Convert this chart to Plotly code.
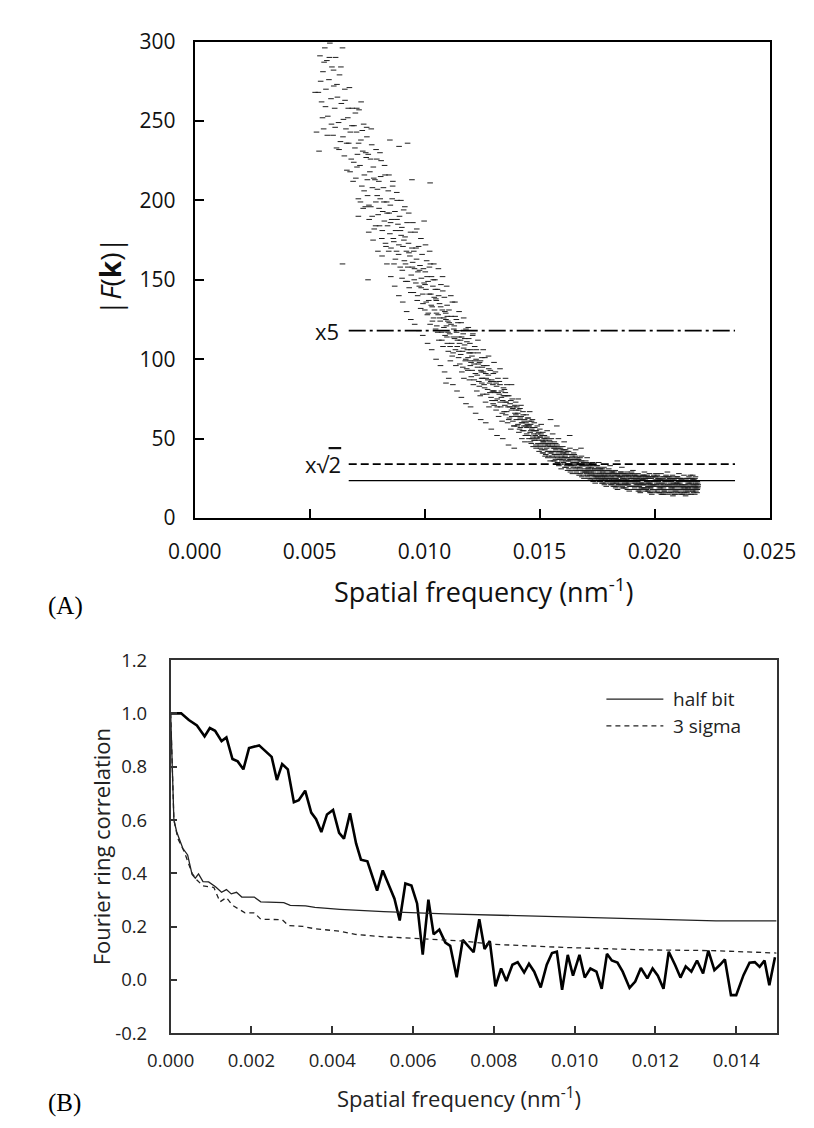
import plotly.graph_objects as go

# ---------------- Panel A data ----------------
# |F(k)| samples: (spatial frequency in 1e-5 nm^-1, amplitude)
pts_low = [
    (524, 268), (530, 243), (538, 268), (541, 231), (545, 291), (552, 262), (558, 281), (561, 245),
    (566, 296), (571, 270), (575, 288), (579, 253), (584, 276), (588, 299), (593, 264), (597, 284),
    (602, 241), (605, 272), (609, 258), (613, 290), (617, 233), (621, 265), (626, 249), (630, 279),
    (634, 237), (638, 261), (643, 296), (647, 251), (643, 160),
    (651, 228), (654, 263), (658, 245), (662, 219), (666, 252), (670, 236), (673, 271), (677, 243),
    (681, 226), (685, 258), (689, 212), (693, 247), (697, 233),
    (701, 214), (704, 243), (708, 229), (712, 201), (715, 257), (719, 222), (723, 238), (727, 209),
    (731, 231), (735, 248), (738, 216), (742, 196), (746, 227), (749, 240), (754, 150),
    (752, 203), (755, 229), (759, 188), (762, 218), (766, 196), (770, 235), (773, 208), (777, 221),
    (781, 182), (784, 213), (788, 199), (792, 226), (795, 207), (798, 191),
    (801, 212), (804, 184), (807, 201), (811, 225), (814, 176), (818, 193), (821, 208), (825, 187),
    (828, 216), (832, 171), (835, 199), (839, 184), (842, 206), (846, 192), (849, 179), (849, 238),
    (851, 197), (854, 170), (857, 188), (861, 209), (864, 176), (867, 160), (871, 193), (874, 181),
    (878, 168), (881, 200), (884, 185), (888, 172), (891, 190), (894, 158), (898, 178), (889, 234),
    (901, 183), (903, 156), (906, 171), (909, 194), (912, 162), (915, 177), (918, 149), (921, 168),
    (924, 186), (927, 158), (930, 173), (933, 145), (936, 165), (939, 180), (942, 153), (945, 170),
    (948, 161), (945, 213), (926, 236),
    (951, 142), (953, 168), (956, 157), (959, 180), (962, 148), (965, 163), (968, 137), (971, 155),
    (974, 171), (977, 146), (980, 159), (983, 132), (986, 151), (989, 166), (992, 141), (995, 157),
    (998, 148), (998, 187),
    (548, 275), (556, 252), (563, 287), (569, 259), (577, 241), (586, 290), (595, 248), (604, 282),
    (611, 246), (619, 273), (628, 232), (636, 284), (645, 240), (653, 270), (661, 236), (668, 258),
    (676, 218), (684, 247), (692, 224), (699, 255), (706, 221), (713, 236), (721, 199), (729, 244),
    (737, 206), (744, 230), (751, 213), (758, 197), (765, 226), (772, 190), (779, 214), (787, 184),
    (794, 203), (802, 195), (809, 215), (816, 181), (823, 199), (830, 173), (837, 192), (844, 168),
    (852, 186), (859, 201), (866, 174), (873, 163), (880, 188), (887, 166), (895, 181), (902, 151),
    (910, 175), (917, 160), (925, 149), (932, 167), (940, 142), (947, 158), (955, 150), (963, 170),
    (970, 140), (978, 156), (985, 145), (993, 135),
]
pts_wide = [
    (705, 258), (712, 190), (724, 262), (733, 195), (748, 246), (757, 180), (768, 245), (776, 175),
    (789, 232), (797, 168), (806, 230), (815, 165), (826, 222), (836, 160), (845, 216), (853, 152),
    (862, 212), (870, 146), (879, 205), (888, 140), (897, 200), (905, 136), (914, 196), (922, 130),
    (931, 192), (940, 125), (949, 186), (957, 122), (966, 182), (975, 118), (984, 176), (992, 115),
    (1004, 172), (1013, 110), (1022, 168), (1031, 106), (1040, 160), (1050, 100), (1060, 157),
    (1069, 96), (1078, 152), (1087, 92), (1096, 146), (1105, 88), (1114, 140), (1123, 84),
    (1132, 136), (1141, 80), (1150, 130), (1160, 76), (1170, 126), (1180, 72), (1190, 120),
    (1200, 70), (1210, 116), (1222, 66), (1232, 112), (1244, 62), (1255, 106), (1266, 60),
    (1278, 102), (1290, 56), (1302, 98), (1315, 52), (1328, 94), (1340, 50), (1352, 88),
    (1365, 46), (1378, 84), (1390, 44),
]
pts_mid = [
    (1001, 131), (1003, 155), (1006, 144), (1009, 162), (1012, 128), (1015, 149), (1018, 137), (1021, 158),
    (1024, 122), (1027, 141), (1030, 152), (1033, 133), (1036, 146), (1039, 126), (1042, 139), (1045, 150),
    (1048, 119), (1024, 211),
    (1051, 137), (1053, 121), (1056, 144), (1059, 128), (1062, 112), (1065, 135), (1068, 124), (1071, 147),
    (1074, 117), (1077, 131), (1080, 108), (1083, 126), (1086, 139), (1089, 115), (1092, 129), (1095, 121),
    (1098, 134), (1099, 110), (1093, 85),
    (1101, 124), (1103, 105), (1106, 131), (1109, 116), (1112, 99), (1115, 122), (1118, 110), (1121, 136),
    (1124, 104), (1127, 119), (1130, 113), (1133, 127), (1136, 96), (1139, 117), (1142, 108), (1145, 123),
    (1148, 101), (1149, 114),
    (1151, 118), (1153, 97), (1156, 112), (1159, 123), (1162, 92), (1165, 105), (1168, 116), (1171, 88),
    (1174, 109), (1177, 99), (1180, 119), (1183, 94), (1186, 106), (1189, 101), (1192, 113), (1195, 87),
    (1198, 104), (1199, 96),
    (1201, 106), (1203, 89), (1206, 102), (1209, 115), (1212, 84), (1215, 97), (1218, 108), (1221, 91),
    (1224, 100), (1227, 80), (1230, 95), (1233, 104), (1236, 86), (1239, 98), (1242, 77), (1245, 93),
    (1248, 88), (1249, 101),
    (1251, 95), (1253, 78), (1256, 92), (1259, 84), (1262, 101), (1265, 73), (1268, 88), (1271, 96),
    (1274, 81), (1277, 90), (1280, 70), (1283, 85), (1286, 93), (1289, 76), (1292, 87), (1295, 80),
    (1298, 72), (1299, 91),
    (1301, 86), (1303, 71), (1305, 79), (1308, 92), (1311, 68), (1313, 83), (1316, 75), (1319, 88),
    (1322, 64), (1325, 78), (1328, 84), (1331, 70), (1334, 80), (1337, 61), (1340, 74), (1343, 82),
    (1346, 67), (1349, 77),
    (1351, 79), (1353, 65), (1355, 73), (1358, 84), (1361, 60), (1363, 70), (1366, 77), (1369, 63),
    (1372, 72), (1375, 56), (1378, 68), (1381, 75), (1384, 61), (1387, 70), (1390, 58), (1393, 66),
    (1396, 73), (1399, 62),
    (1401, 70), (1403, 58), (1405, 66), (1407, 75), (1410, 54), (1412, 62), (1415, 69), (1417, 57),
    (1420, 64), (1423, 50), (1425, 60), (1428, 67), (1431, 55), (1433, 61), (1436, 48), (1439, 58),
    (1442, 65), (1444, 53), (1447, 59),
    (1451, 63), (1453, 52), (1455, 58), (1457, 67), (1460, 48), (1462, 55), (1465, 61), (1467, 50),
    (1470, 57), (1472, 45), (1475, 53), (1477, 60), (1480, 49), (1482, 55), (1485, 44), (1487, 51),
    (1490, 58), (1493, 47), (1496, 54), (1498, 42),
    (1002, 147), (1007, 136), (1011, 152), (1016, 129), (1020, 141), (1025, 160), (1029, 134), (1034, 124),
    (1038, 150), (1043, 131), (1047, 144), (1049, 138),
    (1052, 129), (1057, 117), (1061, 140), (1066, 126), (1070, 133), (1075, 112), (1079, 143), (1084, 120),
    (1088, 130), (1093, 125), (1097, 114), (1099, 127),
    (1102, 117), (1107, 123), (1111, 108), (1116, 127), (1120, 102), (1125, 114), (1129, 121), (1134, 106),
    (1138, 125), (1143, 112), (1147, 118), (1149, 105),
    (1152, 110), (1157, 103), (1161, 114), (1166, 95), (1170, 107), (1175, 113), (1179, 100), (1184, 111),
    (1188, 93), (1193, 104), (1197, 110), (1199, 99),
    (1202, 98), (1207, 93), (1211, 104), (1216, 87), (1220, 99), (1225, 106), (1229, 90), (1234, 97),
    (1238, 83), (1243, 99), (1247, 92), (1249, 85),
    (1252, 88), (1257, 96), (1261, 82), (1266, 91), (1270, 78), (1275, 87), (1279, 94), (1284, 79),
    (1288, 86), (1293, 74), (1297, 84), (1299, 80),
    (1302, 80), (1307, 74), (1311, 85), (1316, 70), (1320, 79), (1325, 86), (1329, 73), (1334, 76),
    (1338, 66), (1343, 77), (1347, 81), (1349, 71),
    (1352, 73), (1357, 67), (1361, 77), (1366, 62), (1370, 70), (1375, 74), (1379, 64), (1384, 69),
    (1388, 58), (1393, 71), (1397, 65), (1399, 68),
    (1402, 64), (1406, 59), (1409, 68), (1413, 56), (1416, 63), (1419, 71), (1422, 60), (1426, 55),
    (1429, 65), (1432, 58), (1435, 62), (1438, 52), (1441, 60), (1445, 57), (1448, 63),
    (1452, 58), (1454, 50), (1456, 61), (1459, 54), (1461, 59), (1464, 47), (1466, 56), (1469, 62),
    (1471, 51), (1474, 55), (1476, 49), (1479, 57), (1481, 52), (1484, 46), (1486, 55), (1489, 50),
    (1492, 53), (1494, 45), (1497, 49),
]
pts_high = [
    (1501, 56), (1503, 46), (1505, 51), (1507, 59), (1509, 43), (1512, 49), (1514, 54), (1516, 41),
    (1519, 48), (1521, 52), (1524, 39), (1526, 46), (1528, 50), (1531, 44), (1533, 55), (1536, 38),
    (1538, 47), (1541, 42), (1543, 49), (1546, 36), (1548, 45), (1548, 62),
    (1551, 50), (1553, 41), (1555, 46), (1557, 53), (1559, 38), (1561, 44), (1564, 48), (1566, 36),
    (1568, 42), (1570, 47), (1572, 34), (1575, 40), (1577, 45), (1579, 38), (1582, 50), (1584, 33),
    (1586, 42), (1589, 37), (1591, 44), (1594, 31), (1596, 39), (1598, 43), (1575, 58),
    (1601, 45), (1603, 37), (1605, 41), (1607, 48), (1609, 34), (1611, 39), (1613, 43), (1616, 32),
    (1618, 38), (1620, 42), (1622, 30), (1625, 36), (1627, 40), (1629, 34), (1632, 44), (1634, 29),
    (1636, 37), (1639, 33), (1641, 39), (1643, 28), (1646, 35), (1648, 41), (1631, 52),
    (1651, 40), (1653, 33), (1655, 37), (1657, 43), (1659, 30), (1661, 35), (1663, 38), (1666, 28),
    (1668, 34), (1670, 37), (1672, 27), (1675, 32), (1677, 36), (1679, 30), (1682, 39), (1684, 26),
    (1686, 33), (1689, 29), (1691, 35), (1693, 25), (1696, 31), (1698, 34), (1680, 44),
    (1701, 36), (1703, 29), (1705, 33), (1707, 38), (1709, 27), (1711, 31), (1713, 34), (1715, 25),
    (1717, 30), (1719, 33), (1721, 24), (1724, 29), (1726, 32), (1728, 27), (1731, 35), (1733, 23),
    (1735, 30), (1737, 26), (1740, 31), (1742, 22), (1744, 28), (1747, 33), (1749, 25),
    (1751, 33), (1753, 26), (1755, 30), (1757, 35), (1759, 24), (1761, 28), (1763, 31), (1765, 23),
    (1767, 27), (1769, 30), (1771, 22), (1773, 26), (1775, 29), (1777, 25), (1780, 32), (1782, 21),
    (1784, 27), (1786, 24), (1788, 28), (1790, 20), (1792, 26), (1795, 30), (1797, 23), (1799, 27),
    (1801, 31), (1803, 24), (1805, 28), (1807, 33), (1809, 22), (1811, 26), (1813, 29), (1815, 21),
    (1817, 25), (1819, 28), (1821, 20), (1823, 24), (1825, 27), (1827, 23), (1829, 30), (1831, 19),
    (1833, 25), (1835, 22), (1837, 27), (1839, 18), (1841, 24), (1843, 28), (1845, 21), (1847, 26),
    (1849, 23), (1838, 36),
    (1852, 29), (1854, 22), (1856, 27), (1858, 32), (1860, 20), (1862, 25), (1864, 28), (1866, 19),
    (1868, 24), (1870, 27), (1872, 21), (1874, 23), (1876, 26), (1878, 22), (1880, 29), (1882, 18),
    (1884, 24), (1886, 21), (1888, 26), (1890, 17), (1892, 23), (1894, 27), (1896, 20), (1898, 25),
    (1900, 29), (1902, 23), (1904, 26), (1906, 30), (1908, 20), (1910, 24), (1912, 27), (1914, 19),
    (1916, 22), (1918, 26), (1920, 18), (1922, 23), (1924, 25), (1926, 21), (1928, 28), (1930, 17),
    (1932, 24), (1934, 20), (1936, 25), (1938, 16), (1940, 22), (1942, 26), (1944, 19), (1946, 24),
    (1948, 21),
    (1950, 27), (1952, 21), (1954, 25), (1956, 29), (1958, 19), (1960, 24), (1962, 26), (1964, 18),
    (1966, 23), (1968, 27), (1970, 17), (1972, 22), (1974, 25), (1976, 20), (1978, 28), (1980, 16),
    (1982, 22), (1984, 19), (1986, 25), (1988, 15), (1990, 21), (1992, 26), (1994, 18), (1996, 23),
    (1998, 20),
    (2000, 26), (2002, 21), (2004, 24), (2006, 28), (2008, 18), (2010, 22), (2012, 27), (2014, 17),
    (2016, 23), (2018, 25), (2020, 16), (2022, 20), (2024, 24), (2026, 19), (2028, 28), (2030, 15),
    (2032, 22), (2034, 18), (2036, 24), (2038, 15), (2040, 21), (2042, 26), (2044, 17), (2046, 23),
    (2048, 20),
    (2050, 27), (2052, 20), (2054, 24), (2056, 29), (2058, 18), (2060, 23), (2062, 26), (2064, 16),
    (2066, 21), (2068, 25), (2070, 17), (2072, 20), (2074, 23), (2076, 19), (2078, 27), (2080, 14),
    (2082, 22), (2084, 18), (2086, 24), (2088, 15), (2090, 21), (2092, 25), (2094, 17), (2096, 22),
    (2098, 20),
    (2100, 26), (2102, 21), (2104, 23), (2106, 28), (2108, 18), (2110, 22), (2112, 25), (2114, 16),
    (2116, 21), (2118, 24), (2120, 15), (2122, 20), (2124, 23), (2126, 19), (2128, 27), (2130, 16),
    (2132, 21), (2134, 18), (2136, 23), (2138, 17), (2140, 20), (2142, 25), (2144, 17), (2146, 22),
    (2148, 19),
    (2150, 26), (2152, 20), (2154, 23), (2156, 27), (2158, 18), (2160, 22), (2162, 25), (2164, 17),
    (2166, 21), (2168, 24), (2170, 16), (2172, 20), (2174, 23), (2176, 19), (2178, 26), (2180, 17),
    (2182, 21), (2184, 18), (2186, 23), (2188, 19), (2176, 25), (2166, 27),
]
pts_dense = [
    (1502, 51), (1504, 44), (1506, 53), (1508, 47), (1511, 52), (1513, 41), (1515, 48), (1518, 45),
    (1520, 50), (1523, 43), (1525, 49), (1527, 40), (1530, 47), (1532, 51), (1535, 42), (1537, 46),
    (1540, 39), (1542, 45), (1545, 48), (1547, 41),
    (1552, 45), (1554, 39), (1556, 47), (1558, 42), (1560, 36), (1563, 45), (1565, 40), (1567, 44),
    (1569, 37), (1571, 43), (1574, 39), (1576, 46), (1578, 35), (1581, 41), (1583, 44), (1585, 37),
    (1588, 40), (1590, 34), (1593, 42), (1595, 38), (1597, 36),
    (1602, 41), (1604, 35), (1606, 43), (1608, 38), (1610, 32), (1612, 40), (1615, 36), (1617, 41),
    (1619, 33), (1621, 38), (1624, 34), (1626, 42), (1628, 31), (1630, 37), (1633, 40), (1635, 33),
    (1637, 36), (1640, 30), (1642, 38), (1645, 34), (1647, 32),
    (1652, 37), (1654, 31), (1656, 39), (1658, 34), (1660, 29), (1662, 36), (1665, 32), (1667, 37),
    (1669, 30), (1671, 34), (1674, 31), (1676, 38), (1678, 28), (1681, 33), (1683, 36), (1685, 30),
    (1688, 33), (1690, 27), (1692, 34), (1695, 30), (1697, 29),
    (1702, 33), (1704, 28), (1706, 35), (1708, 30), (1710, 26), (1712, 32), (1714, 29), (1716, 34),
    (1718, 27), (1720, 31), (1723, 28), (1725, 34), (1727, 25), (1730, 30), (1732, 33), (1734, 27),
    (1736, 29), (1739, 24), (1741, 31), (1743, 27), (1746, 26), (1748, 30),
    (1752, 30), (1754, 25), (1756, 32), (1758, 27), (1760, 23), (1762, 29), (1764, 26), (1766, 31),
    (1768, 24), (1770, 28), (1772, 25), (1774, 31), (1776, 22), (1779, 27), (1781, 30), (1783, 24),
    (1785, 26), (1787, 22), (1789, 29), (1791, 25), (1794, 23), (1796, 28), (1798, 25),
    (1802, 28), (1804, 23), (1806, 30), (1808, 25), (1810, 21), (1812, 27), (1814, 24), (1816, 29),
    (1818, 22), (1820, 26), (1822, 23), (1824, 29), (1826, 20), (1828, 25), (1830, 28), (1832, 22),
    (1834, 24), (1836, 20), (1838, 27), (1840, 23), (1842, 21), (1844, 26), (1846, 24), (1848, 28),
    (1851, 26), (1853, 21), (1855, 29), (1857, 24), (1859, 19), (1861, 26), (1863, 23), (1865, 28),
    (1867, 21), (1869, 25), (1871, 22), (1873, 28), (1875, 19), (1877, 24), (1879, 27), (1881, 21),
    (1883, 23), (1885, 18), (1887, 27), (1889, 22), (1891, 20), (1893, 25), (1895, 23), (1897, 28),
    (1901, 25), (1903, 20), (1905, 28), (1907, 23), (1909, 18), (1911, 25), (1913, 22), (1915, 27),
    (1917, 20), (1919, 24), (1921, 21), (1923, 27), (1925, 18), (1927, 23), (1929, 26), (1931, 20),
    (1933, 22), (1935, 17), (1937, 26), (1939, 21), (1941, 19), (1943, 24), (1945, 22), (1947, 27),
    (1949, 18),
    (1951, 24), (1953, 19), (1955, 27), (1957, 22), (1959, 17), (1961, 25), (1963, 21), (1965, 26),
    (1967, 19), (1969, 23), (1971, 20), (1973, 26), (1975, 17), (1977, 22), (1979, 25), (1981, 19),
    (1983, 21), (1985, 16), (1987, 26), (1989, 20), (1991, 18), (1993, 23), (1995, 21), (1997, 27),
    (1999, 17),
    (2001, 23), (2003, 18), (2005, 26), (2007, 21), (2009, 16), (2011, 24), (2013, 20), (2015, 25),
    (2017, 18), (2019, 22), (2021, 19), (2023, 26), (2025, 16), (2027, 21), (2029, 24), (2031, 18),
    (2033, 20), (2035, 15), (2037, 25), (2039, 19), (2041, 17), (2043, 22), (2045, 20), (2047, 26),
    (2049, 16),
    (2051, 23), (2053, 18), (2055, 26), (2057, 21), (2059, 15), (2061, 24), (2063, 20), (2065, 25),
    (2067, 18), (2069, 22), (2071, 19), (2073, 26), (2075, 16), (2077, 21), (2079, 24), (2081, 18),
    (2083, 20), (2085, 15), (2087, 25), (2089, 19), (2091, 17), (2093, 22), (2095, 20), (2097, 26),
    (2099, 16),
    (2101, 22), (2103, 18), (2105, 25), (2107, 20), (2109, 15), (2111, 23), (2113, 19), (2115, 24),
    (2117, 17), (2119, 21), (2121, 18), (2123, 25), (2125, 15), (2127, 20), (2129, 23), (2131, 18),
    (2133, 19), (2135, 14), (2137, 24), (2139, 18), (2141, 16), (2143, 21), (2145, 19), (2147, 25),
    (2149, 15),
    (2151, 22), (2153, 18), (2155, 25), (2157, 20), (2159, 15), (2161, 23), (2163, 19), (2165, 24),
    (2167, 17), (2169, 21), (2171, 18), (2173, 24), (2175, 15), (2177, 20), (2179, 22), (2181, 18),
    (2183, 19), (2185, 16), (2187, 22), (2189, 20), (2190, 21), (2186, 18),
]

# reference threshold lines of panel A
ref_line_x = [0.0067, 0.0235]
level_x5 = 118
level_sqrt2 = 34
level_noise = 23.6

a_xticks = [0.0, 0.005, 0.010, 0.015, 0.020, 0.025]
a_xticktext = ["0.000", "0.005", "0.010", "0.015", "0.020", "0.025"]
a_yticks = [0, 50, 100, 150, 200, 250, 300]

# ---------------- Panel B data ----------------
frc_x = [
    0.0, 0.00026, 0.00045, 0.00065, 0.00072, 0.00084, 0.00097, 0.00110, 0.00126, 0.00138,
    0.00153, 0.00166, 0.00180, 0.00194, 0.00219, 0.00234, 0.00250, 0.00263, 0.00276, 0.00290,
    0.00305, 0.00317, 0.00333, 0.00348, 0.00360, 0.00373, 0.00387, 0.00402, 0.00417, 0.00429,
    0.00444, 0.00459, 0.00471, 0.00487, 0.00511, 0.00525, 0.00554, 0.00567, 0.00581, 0.00596,
    0.00610, 0.00624, 0.00638, 0.00651, 0.00665, 0.00680, 0.00692, 0.00708, 0.00723, 0.00750,
    0.00764, 0.00777, 0.00790, 0.00804, 0.00818, 0.00831, 0.00846, 0.00859, 0.00875, 0.00887,
    0.00900, 0.00916, 0.00931, 0.00944, 0.00956, 0.00969, 0.00983, 0.00996, 0.01012, 0.01025,
    0.01039, 0.01054, 0.01067, 0.01080, 0.01092, 0.01106, 0.01119, 0.01136, 0.01150, 0.01164,
    0.01180, 0.01193, 0.01206, 0.01220, 0.01233, 0.01249, 0.01262, 0.01275, 0.01289, 0.01303,
    0.01318, 0.01331, 0.01346, 0.01360, 0.01372, 0.01387, 0.01400, 0.01418, 0.01433, 0.01446,
    0.01458, 0.01470, 0.01482, 0.01496,
]
frc_y = [
    1.00, 1.00, 0.975, 0.955, 0.94, 0.914, 0.945, 0.935, 0.896, 0.91,
    0.829, 0.82, 0.79, 0.87, 0.88, 0.86, 0.837, 0.75, 0.81, 0.79,
    0.667, 0.674, 0.71, 0.628, 0.603, 0.555, 0.621, 0.638, 0.552, 0.53,
    0.625, 0.512, 0.451, 0.445, 0.335, 0.411, 0.305, 0.223, 0.362, 0.354,
    0.287, 0.095, 0.301, 0.171, 0.189, 0.14, 0.128, 0.01, 0.15, 0.104,
    0.228, 0.116, 0.146, -0.024, 0.043, -0.004, 0.057, 0.067, 0.028, 0.061,
    0.031, -0.028, 0.057, 0.101, 0.106, -0.037, 0.094, 0.016, 0.094, 0.009,
    0.043, 0.031, -0.033, 0.098, 0.073, 0.065, 0.031, -0.03, -0.006, 0.045,
    0.006, 0.043, 0.016, -0.033, 0.106, 0.055, 0.009, 0.051, 0.031, 0.073,
    0.024, 0.11, 0.037, 0.057, 0.077, -0.057, -0.057, 0.018, 0.065, 0.067,
    0.049, 0.073, -0.02, 0.085,
]
halfbit_x = [
    0.0, 0.00004, 0.00008, 0.00015, 0.0003, 0.00042, 0.00053, 0.00061, 0.00069, 0.0008,
    0.00094, 0.00111, 0.00126, 0.00138, 0.0015, 0.00163, 0.00176, 0.00207, 0.00223, 0.0028,
    0.00296, 0.00334, 0.00357, 0.00419, 0.0045, 0.00527, 0.0068, 0.0078, 0.01066, 0.0135, 0.015,
]
halfbit_y = [
    1.0, 0.78, 0.6, 0.555, 0.494, 0.469, 0.396, 0.382, 0.398, 0.369,
    0.368, 0.35, 0.329, 0.339, 0.323, 0.329, 0.311, 0.311, 0.293, 0.29,
    0.28, 0.278, 0.272, 0.265, 0.262, 0.256, 0.248, 0.244, 0.232, 0.222, 0.222,
]
sigma3_x = [
    0.0, 0.00004, 0.00008, 0.00018, 0.00034, 0.00053, 0.00065, 0.0008, 0.00107, 0.00122,
    0.00138, 0.00153, 0.00184, 0.00207, 0.00223, 0.00276, 0.00292, 0.00327, 0.00357, 0.00419,
    0.00457, 0.00527, 0.00604, 0.00727, 0.00796, 0.00973, 0.01173, 0.01342, 0.015,
]
sigma3_y = [
    1.0, 0.75, 0.6, 0.53, 0.48, 0.40, 0.375, 0.353, 0.347, 0.293,
    0.309, 0.28, 0.252, 0.252, 0.228, 0.226, 0.204, 0.201, 0.192, 0.183,
    0.171, 0.162, 0.155, 0.146, 0.134, 0.122, 0.113, 0.11, 0.101,
]

b_xticks = [0.0, 0.002, 0.004, 0.006, 0.008, 0.010, 0.012, 0.014]
b_xticktext = ["0.000", "0.002", "0.004", "0.006", "0.008", "0.010", "0.012", "0.014"]
b_yticks = [-0.2, 0.0, 0.2, 0.4, 0.6, 0.8, 1.0, 1.2]
b_yticktext = ["-0.2", "0.0", "0.2", "0.4", "0.6", "0.8", "1.0", "1.2"]

legend_names = ["half bit", "3 sigma"]

# ---------------- Figure ----------------
FONT = "Open Sans"
W, H = 814, 1128

all_pts = pts_low + pts_wide + pts_mid + pts_high + pts_dense
fig = go.Figure()

fig.add_trace(go.Scatter(
    x=[p[0] * 1e-5 for p in all_pts], y=[p[1] for p in all_pts],
    mode="markers", xaxis="x", yaxis="y", showlegend=False, hoverinfo="skip",
    marker=dict(symbol="line-ew", size=4, line=dict(width=1, color="#1c1c1c")),
))
fig.add_trace(go.Scatter(x=ref_line_x, y=[level_x5] * 2, mode="lines", xaxis="x", yaxis="y",
                         showlegend=False, line=dict(color="black", width=1.8, dash="17px,4px,3px,4px")))
fig.add_trace(go.Scatter(x=ref_line_x, y=[level_sqrt2] * 2, mode="lines", xaxis="x", yaxis="y",
                         showlegend=False, line=dict(color="black", width=1.8, dash="8px,4px")))
fig.add_trace(go.Scatter(x=ref_line_x, y=[level_noise] * 2, mode="lines", xaxis="x", yaxis="y",
                         showlegend=False, line=dict(color="black", width=1.1)))

fig.add_trace(go.Scatter(x=frc_x, y=frc_y, mode="lines", xaxis="x2", yaxis="y2", showlegend=False,
                         line=dict(color="black", width=2.6)))
fig.add_trace(go.Scatter(x=halfbit_x, y=halfbit_y, mode="lines", xaxis="x2", yaxis="y2",
                         name=legend_names[0], showlegend=False, line=dict(color="#222", width=1.3)))
fig.add_trace(go.Scatter(x=sigma3_x, y=sigma3_y, mode="lines", xaxis="x2", yaxis="y2",
                         name=legend_names[1], showlegend=False,
                         line=dict(color="#222", width=1.3, dash="5px,4px")))

axis_common = dict(showgrid=False, zeroline=False, showline=True, mirror=True, ticks="inside")

fig.update_layout(
    width=W, height=H, margin=dict(l=0, r=0, t=0, b=0),
    paper_bgcolor="white", plot_bgcolor="white", showlegend=False,
    font=dict(family=FONT, color="black"),
    xaxis=dict(domain=[171 / W, 786.7 / W], anchor="y", range=[0, 0.025],
               tickmode="array", tickvals=a_xticks, ticktext=a_xticktext,
               linewidth=2, linecolor="black", ticklen=9, tickwidth=2, tickcolor="black",
               tickfont=dict(size=21, family=FONT, color="#111"), ticklabelstandoff=14, **axis_common),
    yaxis=dict(domain=[1 - 507.7 / H, 1 - 19 / H], anchor="x", range=[0, 300],
               tickmode="array", tickvals=a_yticks,
               linewidth=2, linecolor="black", ticklen=9, tickwidth=2, tickcolor="black",
               tickfont=dict(size=21, family=FONT, color="#111"), ticklabelstandoff=13, **axis_common),
    xaxis2=dict(domain=[145.3 / W, 794.3 / W], anchor="y2", range=[0, 0.015],
                tickmode="array", tickvals=b_xticks, ticktext=b_xticktext,
                linewidth=1.6, linecolor="#333", ticklen=7, tickwidth=1.6, tickcolor="#333",
                tickfont=dict(size=18.5, family=FONT, color="#222"), ticklabelstandoff=10, **axis_common),
    yaxis2=dict(domain=[1 - 1036 / H, 1 - 653.3 / H], anchor="x2", range=[-0.2, 1.2],
                tickmode="array", tickvals=b_yticks, ticktext=b_yticktext,
                linewidth=1.6, linecolor="#333", ticklen=7, tickwidth=1.6, tickcolor="#333",
                tickfont=dict(size=18.5, family=FONT, color="#222"), ticklabelstandoff=18, **axis_common),
)

ann = []
# Panel A titles
ann.append(dict(text="Spatial frequency (nm<sup>-1</sup>)", x=480.5 / W, y=1 - 582 / H,
                xref="paper", yref="paper", xanchor="center", yanchor="middle", showarrow=False,
                font=dict(size=27, family=FONT, color="#111")))
ann.append(dict(text="|<i>F</i>(<b>k</b>)|", x=80 / W, y=1 - 260 / H, textangle=-90,
                xref="paper", yref="paper", xanchor="center", yanchor="middle", showarrow=False,
                font=dict(size=28, family=FONT, color="#111")))
ann.append(dict(text="x5", x=328 / W, y=level_x5, xref="paper", yref="y",
                xanchor="right", yanchor="middle", showarrow=False,
                font=dict(size=22, family=FONT, color="#111")))
ann.append(dict(text="x√<span style=\"text-decoration:overline\">2</span>", x=330 / W, y=level_sqrt2,
                xref="paper", yref="y", xanchor="right", yanchor="middle", showarrow=False,
                font=dict(size=22, family=FONT, color="#111")))
ann.append(dict(text="(A)", x=12 / W, y=1 - 598 / H, xref="paper", yref="paper",
                xanchor="left", yanchor="middle", showarrow=False,
                font=dict(size=25, family="Liberation Serif", color="black")))
# Panel B titles
ann.append(dict(text="Spatial frequency (nm<sup>-1</sup>)", x=454 / W, y=1 - 1101.7 / H,
                xref="paper", yref="paper", xanchor="center", yanchor="middle", showarrow=False,
                font=dict(size=22, family=FONT, color="#222")))
ann.append(dict(text="Fourier ring correlation", x=71 / W, y=1 - 845 / H, textangle=-90,
                xref="paper", yref="paper", xanchor="center", yanchor="middle", showarrow=False,
                font=dict(size=22, family=FONT, color="#222")))
ann.append(dict(text="(B)", x=12 / W, y=1 - 1108 / H, xref="paper", yref="paper",
                xanchor="left", yanchor="middle", showarrow=False,
                font=dict(size=25, family="Liberation Serif", color="black")))
# Panel B legend text
for name, ypx in zip(legend_names, [693.3, 720.7]):
    ann.append(dict(text=name, x=681 / W, y=1 - ypx / H, xref="paper", yref="paper",
                    xanchor="left", yanchor="middle", showarrow=False,
                    font=dict(size=19, family=FONT, color="#222")))

shapes = [
    dict(type="line", xref="paper", yref="paper", x0=612 / W, x1=673 / W,
         y0=1 - 693.3 / H, y1=1 - 693.3 / H, line=dict(color="#222", width=1.3)),
    dict(type="line", xref="paper", yref="paper", x0=612 / W, x1=673 / W,
         y0=1 - 720.7 / H, y1=1 - 720.7 / H, line=dict(color="#222", width=1.3, dash="5px,4px")),
]
fig.update_layout(annotations=ann, shapes=shapes)

fig.write_html("out.html")
